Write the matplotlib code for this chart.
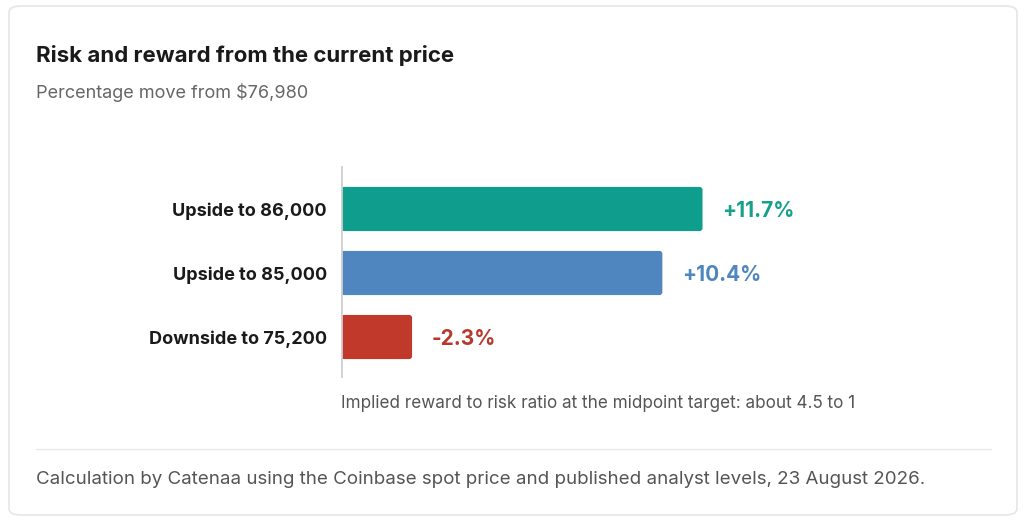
import matplotlib.pyplot as plt
from matplotlib.patches import FancyBboxPatch

plt.rcParams['font.family'] = ['Inter', 'DejaVu Sans']

# data
categories = ['Upside to 86,000', 'Upside to 85,000', 'Downside to 75,200']
moves = [11.7, 10.4, -2.3]
labels = ['+11.7%', '+10.4%', '-2.3%']
bar_colors = ['#0f9e8e', '#4f86c0', '#c0392b']
text_colors = ['#17a08a', '#4f86c0', '#b8382b']

W, H = 1024, 521
fig = plt.figure(figsize=(W / 100, H / 100), dpi=100)

# card background
card = FancyBboxPatch((9 / W, 6 / H), 1008 / W, 509 / H,
                      boxstyle='round,pad=0,rounding_size=0.012',
                      transform=fig.transFigure, facecolor='white',
                      edgecolor='#e6e6e6', linewidth=1.2, zorder=-5)
fig.patches.append(card)

fig.text(36 / W, 1 - 55 / H, 'Risk and reward from the current price',
         fontsize=16, fontweight='bold', color='#1a1a1a', va='center')
fig.text(36 / W, 1 - 93 / H, 'Percentage move from $76,980',
         fontsize=13, color='#666666', va='center')

ax_left, ax_right = 341, 991
ax_top, ax_bot = 166, 378
ax = fig.add_axes([ax_left / W, 1 - ax_bot / H, (ax_right - ax_left) / W,
                   (ax_bot - ax_top) / H])
ax.patch.set_visible(False)
px_per_unit = 30.9
ax.set_xlim(0, (ax_right - ax_left) / px_per_unit)
ax.set_ylim(2.656, -0.656)
ax.axis('off')
ax.axvline(0, color='#d0d0d0', linewidth=2)

bar_h = 0.69
y_px = (ax_bot - ax_top) / 3.312
dy = 3 / y_px
for i, (cat, v, lab) in enumerate(zip(categories, moves, labels)):
    w = abs(v)
    r = 3 / px_per_unit
    p = FancyBboxPatch((0, i - bar_h / 2 + 1 / y_px), w, bar_h,
                       boxstyle='round,pad=0,rounding_size=%f' % r,
                       mutation_aspect=(px_per_unit / y_px),
                       facecolor=bar_colors[i], edgecolor='none')
    ax.add_patch(p)
    ax.text(w + 20 / px_per_unit, i + dy, lab, fontsize=15, fontweight='bold',
            color=text_colors[i], va='center', ha='left')
    ax.text(-14 / px_per_unit, i + dy, cat, fontsize=13, fontweight='bold',
            color='#1a1a1a', va='center', ha='right', clip_on=False)

fig.text(341 / W, 1 - 404 / H,
         'Implied reward to risk ratio at the midpoint target: about 4.5 to 1',
         fontsize=12.3, color='#555555', va='center')

fig.add_artist(plt.Line2D([36 / W, 991 / W], [1 - 449 / H, 1 - 449 / H],
                          transform=fig.transFigure, color='#e8e8e8',
                          linewidth=1))
fig.text(36 / W, 1 - 480 / H,
         'Calculation by Catenaa using the Coinbase spot price and published analyst levels, 23 August 2026.',
         fontsize=13.5, color='#555555', va='center')

fig.savefig('out.png', dpi=100, facecolor='white')
